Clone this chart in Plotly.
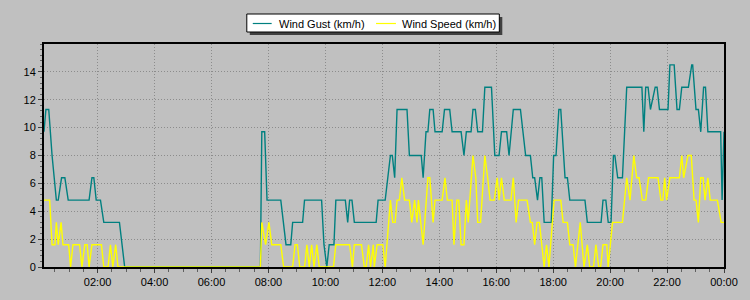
import pandas as pd
import plotly.graph_objects as go

# minutes after midnight and values (km/h)
gust_min = [7,11,17,24,33,37,44,51,58,102,
            108,112,117,126,133,166,177,463,466,472,
            477,506,517,527,531,552,556,592,597,603,
            608,618,622,642,647,651,656,661,707,711,
            726,737,741,746,751,772,777,802,806,812,
            816,820,827,831,846,851,862,867,886,892,
            897,907,911,916,921,931,936,950,957,966,
            971,982,987,992,996,1011,1016,1022,1032,1037,
            1041,1047,1052,1056,1061,1076,1081,1086,1092,1096,
            1105,1110,1115,1147,1152,1181,1185,1191,1196,1202,
            1207,1210,1216,1226,1235,1267,1271,1275,1280,1285,
            1295,1299,1304,1322,1326,1335,1341,1346,1351,1365,
            1372,1374,1381,1386,1391,1397,1401,1406,1433,1436,
            1440]
gust_val = [9.7,11.3,11.3,8.0,4.8,4.8,6.4,6.4,4.8,4.8,
            6.4,6.4,4.8,4.8,3.2,3.2,0,0,9.7,9.7,
            4.8,4.8,1.6,1.6,3.2,3.2,4.8,4.8,1.6,0,
            1.6,1.6,4.8,4.8,3.2,4.8,4.8,3.2,3.2,4.8,
            4.8,8.0,8.0,6.4,11.3,11.3,8.0,8.0,6.4,9.7,
            9.7,11.3,11.3,9.7,9.7,11.3,11.3,9.7,9.7,8.0,
            9.7,9.7,11.3,11.3,9.7,9.7,12.9,12.9,8.0,8.0,
            9.7,9.7,8.0,9.7,11.3,11.3,9.7,8.0,8.0,6.4,
            6.4,4.8,6.4,6.4,3.2,3.2,8.0,8.0,11.3,11.3,
            6.4,6.4,4.8,4.8,3.2,3.2,4.8,4.8,3.2,3.2,
            8.0,8.0,6.4,6.4,12.9,12.9,9.7,12.9,12.9,11.3,
            12.9,12.9,11.3,11.3,14.5,14.5,11.3,11.3,12.9,12.9,
            14.5,14.5,11.3,11.3,9.7,12.9,12.9,9.7,9.7,4.8,
            9.7]

speed_min = [7,19,24,30,33,37,43,47,59,63,
             68,82,87,93,98,102,108,128,133,142,
             147,152,158,163,463,466,474,481,487,506,
             512,531,536,541,546,556,561,566,571,576,
             582,587,617,622,651,657,661,676,682,686,
             691,695,701,703,709,721,726,737,742,747,
             751,756,761,767,777,782,788,793,796,806,
             816,820,827,831,846,852,857,867,871,877,
             881,886,892,897,901,911,917,921,927,936,
             942,947,956,962,966,971,977,991,996,1002,
             1007,1025,1032,1036,1041,1046,1051,1061,1066,1071,
             1082,1096,1101,1110,1115,1122,1127,1137,1145,1152,
             1157,1165,1170,1176,1180,1185,1193,1196,1205,1226,
             1235,1242,1250,1256,1261,1268,1275,1281,1301,1307,
             1311,1315,1319,1326,1346,1351,1355,1364,1371,1377,
             1381,1386,1391,1396,1400,1406,1411,1426,1434,1440]
speed_val = [4.8,4.8,1.6,1.6,3.2,1.6,3.2,1.6,1.6,0,
             1.6,1.6,0,1.6,1.6,0,1.6,1.6,0,0,
             1.6,0,1.6,0,0,3.2,1.6,3.2,1.6,1.6,
             0,0,1.6,1.6,0,0,1.6,0,1.6,0,
             1.6,0,0,1.6,1.6,0,1.6,1.6,0,0,
             1.6,0,1.6,0,1.6,1.6,0,4.8,3.2,3.2,
             4.8,4.8,6.4,4.8,4.8,3.2,4.8,3.2,4.8,1.6,
             6.4,6.4,3.2,4.8,4.8,6.4,4.8,4.8,1.6,4.8,
             4.8,1.6,1.6,4.8,3.2,8.0,6.4,3.2,3.2,8.0,
             6.4,4.8,4.8,6.4,4.8,6.4,4.8,4.8,6.4,3.2,
             4.8,4.8,3.2,3.2,1.6,3.2,3.2,0,1.6,0,
             4.8,4.8,3.2,3.2,1.6,1.6,0,3.2,0,1.6,
             0,0,1.6,0,0,1.6,1.6,0,3.2,3.2,
             6.4,4.8,8.0,6.4,6.4,4.8,4.8,6.4,6.4,4.8,
             4.8,6.4,4.8,6.4,6.4,8.0,6.4,8.0,8.0,4.8,
             4.8,3.2,6.4,6.4,4.8,6.4,4.8,4.8,3.2,3.2]

series_names = ["Wind Gust (km/h)", "Wind Speed (km/h)"]
series_colors = ["#008080", "#FFFF00"]
y_ticks = [0, 2, 4, 6, 8, 10, 12, 14]

base = pd.Timestamp("2024-01-01 00:00")
gust_t = [base + pd.Timedelta(minutes=m) for m in gust_min]
speed_t = [base + pd.Timedelta(minutes=m) for m in speed_min]

W, H = 750, 300
ML, MR, MT, MB = 44, 22, 44, 33
PW, PH = W - ML - MR, H - MT - MB

def px(xp):
    return (xp - ML) / PW

def py(yp):
    return (H - MB - yp) / PH

fig = go.Figure()
fig.add_trace(go.Scatter(x=gust_t, y=gust_val, mode="lines", name=series_names[0],
                         line=dict(color=series_colors[0], width=1.4)))
fig.add_trace(go.Scatter(x=speed_t, y=speed_val, mode="lines", name=series_names[1],
                         line=dict(color=series_colors[1], width=1.4)))

font = dict(family="Liberation Sans, Arial, sans-serif", size=11, color="#000000")

# manual legend box (with drop shadow)
shapes = [
    dict(type="rect", xref="paper", yref="paper", layer="above",
         x0=px(251), x1=px(505), y0=py(17), y1=py(35),
         fillcolor="#404040", line=dict(width=0)),
    dict(type="rect", xref="paper", yref="paper", layer="above",
         x0=px(248), x1=px(502), y0=py(14), y1=py(32),
         fillcolor="#FFFFFF", line=dict(color="#000000", width=1)),
]
annotations = []
legend_items = [(254, 273, 279), (378, 398, 403)]
for (l0, l1, tx), name, col in zip(legend_items, series_names, series_colors):
    shapes.append(dict(type="line", xref="paper", yref="paper", layer="above",
                       x0=px(l0), x1=px(l1), y0=py(23.5), y1=py(23.5),
                       line=dict(color=col, width=1.2)))
    annotations.append(dict(text=name, xref="paper", yref="paper", x=px(tx), y=py(23.5),
                            xanchor="left", yanchor="middle", showarrow=False,
                            font=font, borderpad=0))

fig.update_layout(
    width=W, height=H,
    margin=dict(l=ML, r=MR, t=MT, b=MB),
    paper_bgcolor="#C0C0C0", plot_bgcolor="#C0C0C0",
    font=font,
    showlegend=False,
    shapes=shapes,
    annotations=annotations,
)

fig.update_xaxes(
    type="date",
    range=[base + pd.Timedelta(minutes=7), base + pd.Timedelta(minutes=1440)],
    tick0=base, dtick=2 * 3600 * 1000, tickformat="%H:%M",
    showgrid=True, gridcolor="#8C8C8C", griddash="1px,2px", gridwidth=1,
    showline=True, linecolor="#000000", linewidth=2, mirror=True,
    ticks="outside", ticklen=4, tickcolor="#404040",
    minor=dict(dtick=30 * 60 * 1000, ticks="outside", ticklen=3, tickcolor="#606060", showgrid=False),
    zeroline=False, tickfont=font,
)
fig.update_yaxes(
    range=[0, 16], tickvals=y_ticks,
    showgrid=True, gridcolor="#8C8C8C", griddash="1px,2px", gridwidth=1,
    showline=True, linecolor="#000000", linewidth=2, mirror=True,
    ticks="outside", ticklen=4, tickcolor="#404040",
    minor=dict(dtick=0.4, ticks="outside", ticklen=2, tickcolor="#606060", showgrid=False),
    zeroline=False, tickfont=font,
)

fig.write_html("out.html")
